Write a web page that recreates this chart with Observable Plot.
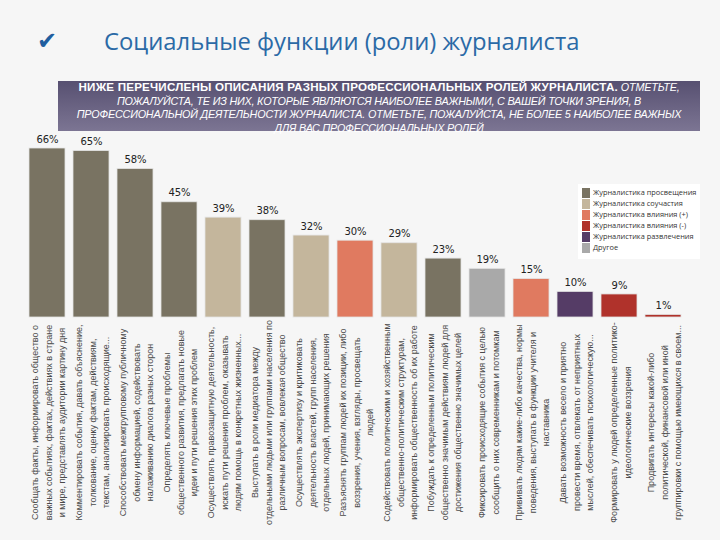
<!DOCTYPE html>
<html>
<head>
<meta charset="utf-8">
<script src="https://cdn.jsdelivr.net/npm/d3@7"></script>
<script src="https://cdn.jsdelivr.net/npm/@observablehq/plot@0.6"></script>
<style>
  html, body { margin: 0; padding: 0; }
  body { width: 720px; height: 540px; background: #f6f6f6; position: relative; overflow: hidden; font-family: "Liberation Sans", Arial, sans-serif; }
  #check { position: absolute; left: 37px; top: 27px; font-family: "DejaVu Sans"; font-size: 24px; color: #1f5e9f; }
  #title { position: absolute; left: 104px; top: 25px; font-family: "Open Sans"; font-size: 23.8px; color: #2b6aa6; white-space: nowrap; }
  #banner { position: absolute; left: 58px; top: 81px; width: 642px; height: 50px;
    background: linear-gradient(to bottom, #575071, #7c7593); }
  #banner p { position: absolute; left: -10px; right: -10px; top: -1px; margin: 0; text-align: center; color: #fff;
    font-size: 10.8px; line-height: 13.6px; letter-spacing: -0.2px; white-space: nowrap; }
  #banner b { font-weight: bold; font-size: 11.6px; letter-spacing: 0.2px; }
  #banner i { font-style: italic; }
  #chart { position: absolute; left: 0; top: 130px; }
  #legend { position: absolute; left: 578px; top: 184px; width: 122px; height: 75px; background: #fff; padding-top: 3px; box-sizing: border-box; }
  .row { position: relative; height: 11px; font-family: "Open Sans"; font-size: 7.4px; color: #333; line-height: 11px; padding-left: 15px; white-space: nowrap; }
  .sw { position: absolute; left: 4px; top: 1px; width: 8px; height: 10px; }
</style>
</head>
<body>
<div id="check">✔</div>
<div id="title">Социальные функции (роли) журналиста</div>
<div id="banner"><p><b>НИЖЕ ПЕРЕЧИСЛЕНЫ ОПИСАНИЯ РАЗНЫХ ПРОФЕССИОНАЛЬНЫХ РОЛЕЙ ЖУРНАЛИСТА.</b> <i>ОТМЕТЬТЕ,<br>ПОЖАЛУЙСТА, ТЕ ИЗ НИХ, КОТОРЫЕ ЯВЛЯЮТСЯ НАИБОЛЕЕ ВАЖНЫМИ, С ВАШЕЙ ТОЧКИ ЗРЕНИЯ, В<br>ПРОФЕССИОНАЛЬНОЙ ДЕЯТЕЛЬНОСТИ ЖУРНАЛИСТА. ОТМЕТЬТЕ, ПОЖАЛУЙСТА, НЕ БОЛЕЕ 5 НАИБОЛЕЕ ВАЖНЫХ<br>ДЛЯ ВАС ПРОФЕССИОНАЛЬНЫХ РОЛЕЙ</i></p></div>
<div id="chart"></div>
<div id="legend"></div>
<script>
const roles = [
  "Сообщать факты, информировать общество о\nважных событиях, фактах, действиях в стране\nи мире, представлять аудитории картину дня",
  "Комментировать события, давать объяснение,\nтолкование, оценку фактам, действиям,\nтекстам, анализировать происходящие...",
  "Способствовать межгрупповому публичному\nобмену информацией, содействовать\nналаживанию диалога разных сторон",
  "Определять ключевые проблемы\nобщественного развития, предлагать новые\nидеи и пути решения этих проблем",
  "Осуществлять правозащитную деятельность,\nискать пути решения проблем, оказывать\nлюдям помощь в конкретных жизненных...",
  "Выступать в роли медиатора между\nотдельными людьми или группами населения по\nразличным вопросам, вовлекая общество",
  "Осуществлять экспертизу и критиковать\nдеятельность властей, групп населения,\nотдельных людей, принимающих решения",
  "Разъяснять группам людей их позиции, либо\nвоззрения, учения, взгляды, просвещать\nлюдей",
  "Содействовать политическим и хозяйственным\nобщественно-политическим структурам,\nинформировать общественность об их работе",
  "Побуждать к определенным политическим\nобщественно значимым действиям людей для\nдостижения общественно значимых целей",
  "Фиксировать происходящие события с целью\nсообщить о них современникам и потомкам",
  "Прививать людям какие-либо качества, нормы\nповедения, выступать в функции учителя и\nнаставника",
  "Давать возможность весело и приятно\nпровести время, отвлекать от неприятных\nмыслей, обеспечивать психологическую...",
  "Формировать у людей определенные политико-\nидеологические воззрения",
  "Продвигать интересы какой-либо\nполитической, финансовой или иной\nгруппировки с помощью имеющихся в своем..."
];
const values = [66, 65, 58, 45, 39, 38, 32, 30, 29, 23, 19, 15, 10, 9, 1];
const groups = [
  "Журналистика просвещения", "Журналистика просвещения", "Журналистика просвещения", "Журналистика просвещения",
  "Журналистика соучастия", "Журналистика просвещения", "Журналистика соучастия", "Журналистика влияния (+)",
  "Журналистика соучастия", "Журналистика просвещения", "Другое", "Журналистика влияния (+)",
  "Журналистика развлечения", "Журналистика влияния (-)", "Журналистика влияния (-)"
];
const groupNames = ["Журналистика просвещения", "Журналистика соучастия", "Журналистика влияния (+)", "Журналистика влияния (-)", "Журналистика развлечения", "Другое"];
const groupColors = ["#797362", "#c4b69c", "#e07a60", "#b0322b", "#553c66", "#a9a9a9"];

const data = roles.map((r, i) => ({role: r, value: values[i], group: groups[i]}));

const plot = Plot.plot({
  width: 720,
  height: 410,
  marginTop: 18,
  marginBottom: 223,
  marginLeft: 23,
  marginRight: 32,
  style: {background: "transparent", fontFamily: "Liberation Sans"},
  x: {domain: roles, paddingInner: 0.176, paddingOuter: 0, axis: null},
  y: {domain: [0, 66], axis: null},
  color: {domain: groupNames, range: groupColors},
  marks: [
    Plot.barY(data, {x: "role", y: "value", fill: "group", stroke: "#e4e4e4", strokeWidth: 0.8}),
    Plot.text(data, {x: "role", y: "value", text: d => d.value + "%", dy: -9, fontSize: 10, fill: "#222", fontFamily: "DejaVu Sans"}),
    Plot.text(data, {x: "role", text: "role", frameAnchor: "bottom", rotate: -90, textAnchor: "middle", lineAnchor: "middle", dy: 105, fontSize: 9, lineHeight: 1.5, fill: "#4a4a4a"})
  ]
});
document.getElementById("chart").appendChild(plot);

const legend = document.getElementById("legend");
groupNames.forEach((g, i) => {
  const row = document.createElement("div");
  row.className = "row";
  row.innerHTML = `<span class="sw" style="background:${groupColors[i]}"></span>${g}`;
  legend.appendChild(row);
});
</script>
</body>
</html>
